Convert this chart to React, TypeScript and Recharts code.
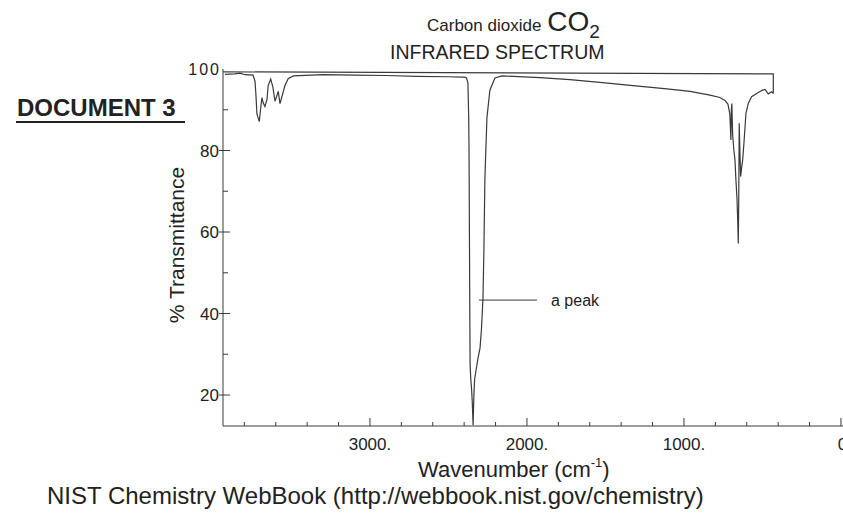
import { LineChart, Line, XAxis, YAxis, ReferenceLine } from "recharts";

// CO2 spectrum: wavenumber (cm-1) / % transmittance
const WAVENUMBER = [
  3924, 3860, 3828, 3796, 3745, 3732, 3726, 3720, 3705, 3697, 3688, 3680, 3669, 3656, 3648,
  3632, 3619, 3605, 3594, 3584, 3573, 3562, 3541, 3520, 3488, 3300, 3100, 2900, 2700, 2500,
  2420, 2395, 2385, 2376, 2371, 2369, 2366, 2364, 2362, 2358, 2353, 2348, 2343, 2338, 2333,
  2325, 2312, 2299, 2290, 2280, 2274, 2268, 2255, 2236, 2204, 2159, 1917, 1726, 1535, 1325,
  1108, 962, 834, 771, 739, 720, 708, 701, 698, 695, 690, 682, 675, 669, 662,
  657, 654, 651, 648, 644, 639, 632, 626, 618, 605, 590, 569, 537, 505, 484,
  463, 441, 431,
];
const TRANSMITTANCE = [
  98.7, 98.8, 99.0, 98.6, 98.5, 97.0, 93.5, 89.0, 87.1, 90.0, 93.0, 91.7, 90.8, 92.5, 96.0,
  97.5, 95.7, 92.1, 93.3, 94.5, 91.5, 93.0, 96.0, 97.7, 98.3, 98.6, 98.5, 98.4, 98.2, 98.1,
  98.0, 98.0, 97.8, 96.6, 88.0, 80.6, 56.0, 40.0, 27.4, 24.0, 21.7, 18.0, 12.6, 20.0, 24.0,
  25.9, 29.0, 31.5, 36.0, 43.8, 56.0, 73.0, 88.0, 94.8, 97.8, 98.3, 97.9, 97.4, 96.7, 95.9,
  95.1, 94.5, 93.6, 93.0, 92.3, 91.4, 89.0, 82.6, 90.0, 91.5, 84.0, 80.0, 77.7, 72.8, 68.0,
  62.0, 57.2, 68.0, 86.7, 80.0, 73.6, 76.0, 77.7, 81.8, 89.2, 91.6, 93.2, 94.0, 94.7, 95.0,
  93.9, 94.4, 94.0,
];

// the 100 % line the plotter drew across the top
const FRAME_W = [3936, 431, 431];
const FRAME_T = [99.3, 98.8, 94.0];

const X_TICKS = [0, 200, 400, 600, 800, 1000, 1200, 1400, 1600, 1800, 2000, 2200, 2400, 2600, 2800, 3000, 3200, 3400, 3600, 3800];
const Y_TICKS = [20, 30, 40, 50, 60, 70, 80, 90, 100];

const spectrum = WAVENUMBER.map((w, i) => ({ w, t: TRANSMITTANCE[i] }));
const frame = FRAME_W.map((w, i) => ({ w, t: FRAME_T[i] }));

const INK = "#3a3a3a";
const FONT = "'Liberation Sans', Arial, sans-serif";

function XTick(props: any) {
  const { x, y, payload } = props;
  const major = payload.value % 1000 === 0;
  return (
    <g>
      <line x1={x} x2={x} y1={y} y2={y - (major ? 8 : 4)} stroke={INK} />
      {major && (
        <text x={x + (payload.value === 0 ? 4 : 0)} y={y + 24} textAnchor="middle" fontSize={17} fill="#222" fontFamily={FONT}>
          {`${payload.value}.`}
        </text>
      )}
    </g>
  );
}

function YTick(props: any) {
  const { x, y, payload } = props;
  const major = payload.value % 20 === 0;
  if (payload.value === 100) {
    return (
      <text x={x - 2} y={y + 6} textAnchor="end" fontSize={16} fill="#222" fontFamily={FONT} letterSpacing={2}>
        100
      </text>
    );
  }
  return (
    <g>
      <line x1={major ? x - 4 : x} x2={x + (major ? 7 : 5)} y1={y} y2={y} stroke={INK} />
      {major && (
        <text x={x - 4} y={y + 6} textAnchor="end" fontSize={17} fill="#222" fontFamily={FONT}>
          {payload.value}
        </text>
      )}
    </g>
  );
}

export default function App() {
  return (
    <div style={{ position: "absolute", left: 0, top: 0, width: 843, height: 519, background: "#fff", overflow: "hidden", fontFamily: FONT }}>
      <LineChart width={843} height={519} margin={{ top: 69, right: 0, bottom: 63, left: 183 }}>
        <XAxis
          type="number"
          dataKey="w"
          domain={[-13, 3936]}
          reversed
          allowDataOverflow
          ticks={X_TICKS}
          interval={0}
          tick={<XTick />}
          tickSize={0}
          tickMargin={0}
          height={30}
          axisLine={{ stroke: INK }}
        />
        <YAxis
          type="number"
          dataKey="t"
          domain={[12.4, 100]}
          allowDataOverflow
          ticks={Y_TICKS}
          interval={0}
          tick={<YTick />}
          tickSize={0}
          tickMargin={0}
          width={40}
          axisLine={{ stroke: INK }}
        />
        <Line data={frame} dataKey="t" stroke={INK} strokeWidth={1.2} dot={false} activeDot={false} isAnimationActive={false} />
        <Line data={spectrum} dataKey="t" stroke={INK} strokeWidth={1.2} dot={false} activeDot={false} isAnimationActive={false} />
        <ReferenceLine
          segment={[{ x: 2306, y: 43.3 }, { x: 1936, y: 43.3 }]}
          stroke={INK}
          label={{ value: "a peak", position: "right", offset: 14, fontSize: 16, fill: "#222", fontFamily: FONT }}
        />
      </LineChart>
      <svg width={843} height={519} style={{ position: "absolute", left: 0, top: 0, pointerEvents: "none" }} fontFamily={FONT}>
        <text x={427} y={31} fontSize={17} fill="#222">
          Carbon dioxide
          <tspan dx={6} fontSize={28}>CO</tspan>
          <tspan fontSize={19} dy={7}>2</tspan>
        </text>
        <text x={390} y={59} fontSize={19.5} fill="#222">INFRARED SPECTRUM</text>
        <text x={17} y={116} fontSize={24} fontWeight="bold" fill="#222">DOCUMENT 3</text>
        <line x1={16} x2={185} y1={122} y2={122} stroke="#222" strokeWidth={2} />
        <text x={0} y={0} fontSize={21} fill="#222" textAnchor="middle" transform="translate(184,245) rotate(-90)">
          % Transmittance
        </text>
        <text x={418} y={477} fontSize={22} fill="#222">
          Wavenumber (cm
          <tspan fontSize={13} dy={-10}>-1</tspan>
          <tspan dy={10}>)</tspan>
        </text>
        <text x={47} y={504} fontSize={24} fill="#222">NIST Chemistry WebBook (http://webbook.nist.gov/chemistry)</text>
      </svg>
    </div>
  );
}
